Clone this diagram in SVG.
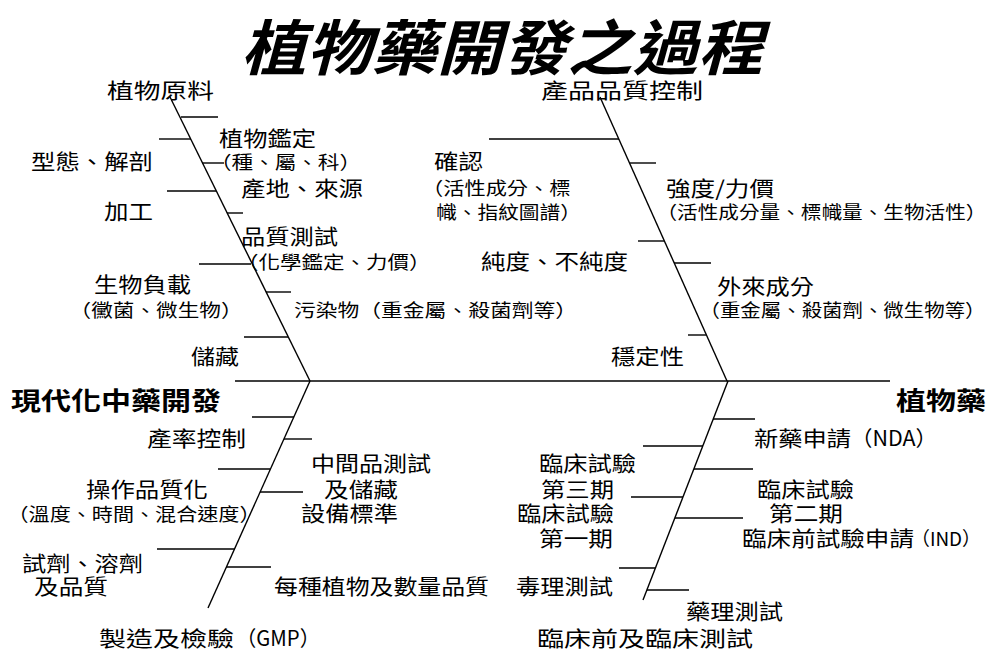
<svg xmlns="http://www.w3.org/2000/svg" width="988" height="650" viewBox="0 0 988 650">
<style>
text{font-family:"Noto Sans CJK TC","Noto Sans CJK SC",sans-serif;fill:#000;}
.m{font-size:21px;}
.s{font-size:18px;}
.b{font-size:25px;font-weight:bold;}
.t{font-size:60px;font-weight:bold;font-style:italic;}
.ln{stroke:#000;stroke-width:1.4;fill:none;}
</style>
<rect width="988" height="650" fill="#fff"/>
<g id="connectors" class="ln">
<line x1="235" y1="381" x2="890" y2="381"/>
<line x1="170" y1="97" x2="310" y2="381"/>
<line x1="600" y1="97" x2="727" y2="381"/>
<line x1="310" y1="381" x2="208" y2="608"/>
<line x1="728" y1="381" x2="643" y2="600"/>
<line x1="181" y1="117" x2="218" y2="117"/>
<line x1="159" y1="139" x2="191" y2="139"/>
<line x1="202" y1="163" x2="224" y2="163"/>
<line x1="167" y1="191" x2="216" y2="191"/>
<line x1="227" y1="213" x2="243" y2="213"/>
<line x1="199" y1="264" x2="251" y2="264"/>
<line x1="266" y1="292" x2="291" y2="292"/>
<line x1="244" y1="337" x2="288" y2="337"/>
<line x1="489" y1="139" x2="619" y2="139"/>
<line x1="630" y1="163" x2="656" y2="163"/>
<line x1="638" y1="241" x2="664" y2="241"/>
<line x1="674" y1="263" x2="711" y2="263"/>
<line x1="688" y1="335" x2="706" y2="335"/>
<line x1="252" y1="417" x2="294" y2="417"/>
<line x1="284" y1="439" x2="312" y2="439"/>
<line x1="218" y1="469" x2="270" y2="469"/>
<line x1="260" y1="492" x2="303" y2="492"/>
<line x1="157" y1="549" x2="235" y2="549"/>
<line x1="226" y1="567" x2="271" y2="567"/>
<line x1="713" y1="419" x2="755" y2="419"/>
<line x1="643" y1="446" x2="703" y2="446"/>
<line x1="694" y1="469" x2="753" y2="469"/>
<line x1="631" y1="497" x2="683" y2="497"/>
<line x1="675" y1="518" x2="743" y2="518"/>
<line x1="619" y1="568" x2="655" y2="568"/>
<line x1="647" y1="590" x2="689" y2="590"/>
</g>
<g id="title"><text class="t" x="241" y="70" textLength="522" lengthAdjust="spacingAndGlyphs">植物藥開發之過程</text></g>
<g id="n-raw"><text class="m" x="107" y="98" textLength="107" lengthAdjust="spacingAndGlyphs">植物原料</text></g>
<g id="n-qc"><text class="m" x="541" y="98" textLength="162" lengthAdjust="spacingAndGlyphs">產品品質控制</text></g>
<g id="n-ident"><text class="m" x="219" y="145.5" textLength="97" lengthAdjust="spacingAndGlyphs">植物鑑定</text>
<text class="s" x="210" y="168.7" textLength="151" lengthAdjust="spacingAndGlyphs">（種、屬、科）</text></g>
<g id="n-morph"><text class="m" x="31" y="168.5" textLength="122" lengthAdjust="spacingAndGlyphs">型態、解剖</text></g>
<g id="n-origin"><text class="m" x="241" y="195.5" textLength="122" lengthAdjust="spacingAndGlyphs">產地、來源</text></g>
<g id="n-confirm"><text class="m" x="434" y="168.5" textLength="49" lengthAdjust="spacingAndGlyphs">確認</text>
<text class="s" x="422" y="194.7" textLength="148.5" lengthAdjust="spacingAndGlyphs">（活性成分、標</text>
<text class="s" x="436" y="218.7" textLength="145" lengthAdjust="spacingAndGlyphs">幟、指紋圖譜）</text></g>
<g id="n-strength"><text class="m" x="666" y="195.5" textLength="108" lengthAdjust="spacingAndGlyphs">強度/力價</text>
<text class="s" x="656.5" y="218.7" textLength="330" lengthAdjust="spacingAndGlyphs">（活性成分量、標幟量、生物活性）</text></g>
<g id="n-process"><text class="m" x="104" y="218.5" textLength="49" lengthAdjust="spacingAndGlyphs">加工</text></g>
<g id="n-qtest"><text class="m" x="241" y="243.5" textLength="97" lengthAdjust="spacingAndGlyphs">品質測試</text>
<text class="s" x="237" y="268.7" textLength="193.5" lengthAdjust="spacingAndGlyphs">（化學鑑定、力價）</text></g>
<g id="n-purity"><text class="m" x="481" y="268.5" textLength="147" lengthAdjust="spacingAndGlyphs">純度、不純度</text></g>
<g id="n-bioburden"><text class="m" x="94" y="291.5" textLength="97" lengthAdjust="spacingAndGlyphs">生物負載</text>
<text class="s" x="69.6" y="316.7" textLength="173" lengthAdjust="spacingAndGlyphs">（黴菌、微生物）</text></g>
<g id="n-contam"><text class="s" x="294" y="316.7" textLength="283" lengthAdjust="spacingAndGlyphs">污染物（重金屬、殺菌劑等）</text></g>
<g id="n-foreign"><text class="m" x="717" y="293.5" textLength="97" lengthAdjust="spacingAndGlyphs">外來成分</text>
<text class="s" x="699.5" y="316.7" textLength="286" lengthAdjust="spacingAndGlyphs">（重金屬、殺菌劑、微生物等）</text></g>
<g id="n-storage"><text class="m" x="191" y="363.5" textLength="48" lengthAdjust="spacingAndGlyphs">儲藏</text></g>
<g id="n-stability"><text class="m" x="611" y="363.5" textLength="73" lengthAdjust="spacingAndGlyphs">穩定性</text></g>
<g id="n-modern"><text class="b" x="11" y="410" textLength="210" lengthAdjust="spacingAndGlyphs">現代化中藥開發</text></g>
<g id="n-botanical"><text class="b" x="896" y="410" textLength="90" lengthAdjust="spacingAndGlyphs">植物藥</text></g>
<g id="n-yield"><text class="m" x="147" y="445.5" textLength="99" lengthAdjust="spacingAndGlyphs">產率控制</text></g>
<g id="n-intermediate"><text class="m" x="311" y="470.5" textLength="120" lengthAdjust="spacingAndGlyphs">中間品測試</text>
<text class="m" x="324" y="496.5" textLength="74" lengthAdjust="spacingAndGlyphs">及儲藏</text></g>
<g id="n-operation"><text class="m" x="86" y="496.5" textLength="122" lengthAdjust="spacingAndGlyphs">操作品質化</text>
<text class="s" x="7.5" y="520.7" textLength="253" lengthAdjust="spacingAndGlyphs">（溫度、時間、混合速度）</text></g>
<g id="n-equipment"><text class="m" x="301" y="520.5" textLength="97" lengthAdjust="spacingAndGlyphs">設備標準</text></g>
<g id="n-reagent"><text class="m" x="22" y="570.5" textLength="121" lengthAdjust="spacingAndGlyphs">試劑、溶劑</text>
<text class="m" x="34" y="593.5" textLength="74" lengthAdjust="spacingAndGlyphs">及品質</text></g>
<g id="n-perplant"><text class="m" x="274" y="593.5" textLength="215" lengthAdjust="spacingAndGlyphs">每種植物及數量品質</text></g>
<g id="n-gmp"><text class="m" x="99" y="645.5" textLength="135" lengthAdjust="spacingAndGlyphs">製造及檢驗</text>
<text class="m" x="236" y="645.5" textLength="84" lengthAdjust="spacingAndGlyphs">（GMP）</text></g>
<g id="n-nda"><text class="m" x="754" y="445.5" textLength="97" lengthAdjust="spacingAndGlyphs">新藥申請</text>
<text class="m" x="851" y="445.5" textLength="86" lengthAdjust="spacingAndGlyphs">（NDA）</text></g>
<g id="n-phase3"><text class="m" x="539" y="470.5" textLength="97" lengthAdjust="spacingAndGlyphs">臨床試驗</text>
<text class="m" x="541" y="496.5" textLength="73" lengthAdjust="spacingAndGlyphs">第三期</text></g>
<g id="n-phase2"><text class="m" x="757" y="496.5" textLength="97" lengthAdjust="spacingAndGlyphs">臨床試驗</text>
<text class="m" x="769" y="520.5" textLength="74" lengthAdjust="spacingAndGlyphs">第二期</text></g>
<g id="n-phase1"><text class="m" x="517" y="520.5" textLength="97" lengthAdjust="spacingAndGlyphs">臨床試驗</text>
<text class="m" x="539" y="545.5" textLength="74" lengthAdjust="spacingAndGlyphs">第一期</text></g>
<g id="n-ind"><text class="m" x="742" y="545.5" textLength="172" lengthAdjust="spacingAndGlyphs">臨床前試驗申請</text>
<text x="911" y="545.5" font-size="19" textLength="70" lengthAdjust="spacingAndGlyphs">（IND）</text></g>
<g id="n-tox"><text class="m" x="516" y="593.5" textLength="97" lengthAdjust="spacingAndGlyphs">毒理測試</text></g>
<g id="n-pharm"><text class="m" x="686" y="618.5" textLength="97" lengthAdjust="spacingAndGlyphs">藥理測試</text></g>
<g id="n-clinical"><text class="m" x="537" y="645.5" textLength="216" lengthAdjust="spacingAndGlyphs">臨床前及臨床測試</text></g>
</svg>
